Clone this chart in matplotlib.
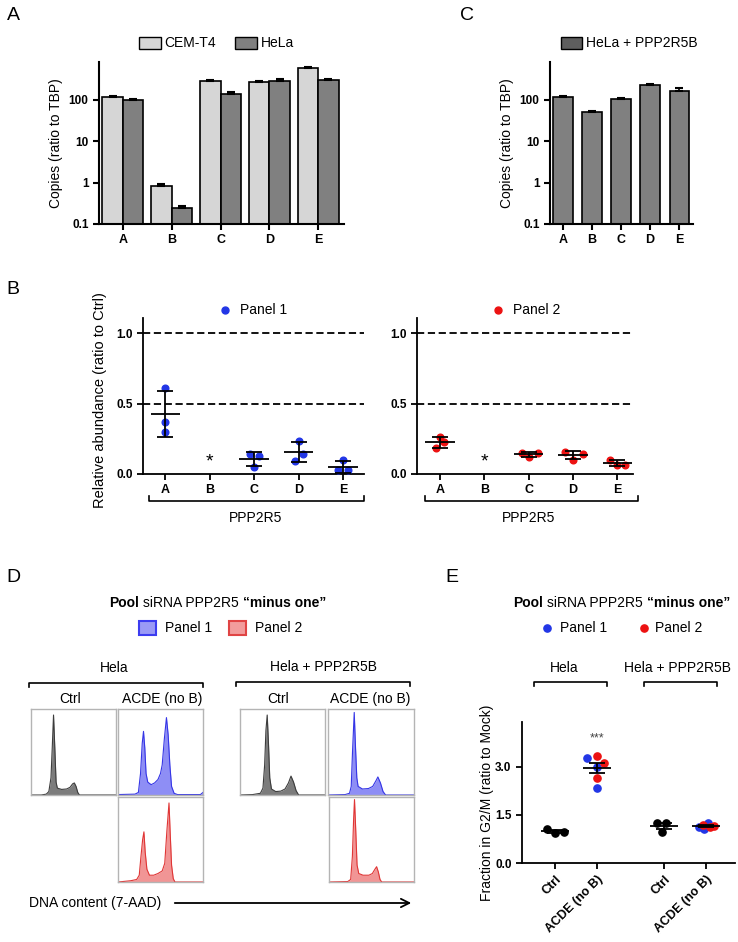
import numpy as np
import matplotlib.pyplot as plt
from matplotlib.patches import Rectangle
from matplotlib.ticker import NullLocator

plt.rcParams['font.family'] = ['Liberation Sans', 'DejaVu Sans']

# ---------------- data ----------------
genes = ['A', 'B', 'C', 'D', 'E']

# panel A / C : copies (ratio to TBP)
cem_t4 = [120, 0.85, 285, 270, 600]
cem_t4_err = [8, 0.1, 15, 12, 25]
hela = [100, 0.25, 140, 290, 300]
hela_err = [6, 0.03, 12, 25, 30]
hela_b = [120, 50, 105, 230, 165]
hela_b_err = [5, 4, 8, 20, 25]

# panel B : relative abundance (ratio to Ctrl), None = not measured
panel1_vals = [[0.61, 0.37, 0.30], None, [0.145, 0.126, 0.05],
               [0.233, 0.145, 0.09], [0.097, 0.026, 0.026]]
panel1_jit = [[0, 0, 0], None, [-0.1, 0.1, 0], [0, 0.1, -0.09], [0, -0.12, 0.12]]
panel2_vals = [[0.26, 0.228, 0.185], None, [0.15, 0.15, 0.12],
               [0.16, 0.145, 0.10], [0.10, 0.065, 0.065]]
panel2_jit = [[0, 0.1, -0.1], None, [-0.15, 0.2, 0], [-0.18, 0.22, 0], [-0.17, 0, 0.18]]

# panel D : DNA content histograms (x, y as fraction of the box)
hist_hela_ctrl = [(0, 0), (0.12, 0), (0.18, 0.01), (0.21, 0.04), (0.235, 0.2), (0.25, 0.55),
                  (0.265, 0.93), (0.28, 0.55), (0.295, 0.15), (0.31, 0.08), (0.36, 0.065),
                  (0.42, 0.07), (0.46, 0.09), (0.49, 0.13), (0.51, 0.14), (0.53, 0.1),
                  (0.55, 0.03), (0.57, 0), (1, 0)]
hist_hela_p1 = [(0, 0.005), (0.2, 0.01), (0.24, 0.03), (0.265, 0.25), (0.285, 0.6), (0.3, 0.74),
                (0.315, 0.55), (0.33, 0.25), (0.35, 0.15), (0.39, 0.12), (0.43, 0.14),
                (0.47, 0.18), (0.5, 0.25), (0.52, 0.35), (0.545, 0.65), (0.57, 0.9),
                (0.59, 0.7), (0.61, 0.35), (0.63, 0.1), (0.66, 0.02), (0.7, 0.005),
                (0.97, 0.005), (1, 0.03)]
hist_hela_p2 = [(0, 0), (0.05, 0.005), (0.15, 0.015), (0.22, 0.03), (0.25, 0.08), (0.27, 0.3),
                (0.29, 0.5), (0.305, 0.59), (0.32, 0.35), (0.34, 0.15), (0.37, 0.08),
                (0.42, 0.08), (0.47, 0.1), (0.52, 0.13), (0.55, 0.22), (0.575, 0.6),
                (0.6, 0.93), (0.615, 0.55), (0.63, 0.2), (0.65, 0.04), (0.67, 0), (1, 0)]
hist_helab_ctrl = [(0, 0), (0.15, 0.005), (0.24, 0.02), (0.27, 0.08), (0.29, 0.35), (0.305, 0.75),
                   (0.32, 0.93), (0.335, 0.6), (0.35, 0.2), (0.37, 0.07), (0.42, 0.04),
                   (0.48, 0.045), (0.53, 0.07), (0.57, 0.14), (0.6, 0.22), (0.63, 0.15),
                   (0.66, 0.05), (0.69, 0), (1, 0)]
hist_helab_p1 = [(0, 0), (0.2, 0.005), (0.25, 0.02), (0.27, 0.1), (0.285, 0.5), (0.305, 0.96),
                 (0.32, 0.55), (0.335, 0.2), (0.35, 0.1), (0.4, 0.07), (0.47, 0.075),
                 (0.52, 0.1), (0.56, 0.17), (0.58, 0.21), (0.61, 0.14), (0.64, 0.04),
                 (0.67, 0), (1, 0)]
hist_helab_p2 = [(0, 0), (0.22, 0.005), (0.255, 0.03), (0.275, 0.3), (0.29, 0.75), (0.3, 0.97),
                 (0.315, 0.6), (0.33, 0.2), (0.35, 0.1), (0.4, 0.08), (0.47, 0.08),
                 (0.51, 0.1), (0.54, 0.15), (0.56, 0.18), (0.58, 0.12), (0.6, 0.03),
                 (0.62, 0), (1, 0)]

# panel E : fraction in G2/M (ratio to Mock)
e_labels = ['Ctrl', 'ACDE (no B)', 'Ctrl', 'ACDE (no B)']
e_pos = [0, 1, 2.6, 3.6]
e_black = [[1.05, 0.93, 0.97], [], [1.25, 1.25, 0.98], []]
e_black_jit = [[-0.2, 0, 0.2], [], [-0.18, 0.05, -0.06], []]
e_blue = [[], [3.27, 3.01, 2.33], [], [1.12, 1.05, 1.25]]
e_blue_jit = [[], [-0.25, 0, 0], [], [-0.18, -0.05, 0.05]]
e_red = [[], [3.34, 3.13, 2.65], [], [1.2, 1.12, 1.16]]
e_red_jit = [[], [0, 0.16, 0], [], [-0.08, 0.1, 0.2]]

BLUE = '#2236e6'
RED = '#ec1212'

# ---------------- figure ----------------
W, H = 738, 942
fig = plt.figure(figsize=(W / 100, H / 100), dpi=100)

ov = fig.add_axes([0, 0, 1, 1], zorder=-1)
ov.set_xlim(0, W)
ov.set_ylim(H, 0)
ov.axis('off')


def px_axes(x0, y0, x1, y1):
    return fig.add_axes([x0 / W, 1 - y1 / H, (x1 - x0) / W, (y1 - y0) / H])


def txt(x, y, s, size=10, **kw):
    kw.setdefault('ha', 'center')
    kw.setdefault('va', 'center')
    return ov.text(x, y, s, fontsize=size, **kw)


def bracket(x0, x1, y, tick=4):
    ov.plot([x0, x0, x1, x1], [y + tick, y, y, y + tick], color='k', lw=1.2)


renderer = fig.canvas.get_renderer()


def text_width(s, size, weight):
    t = ov.text(0, 0, s, fontsize=size, fontweight=weight)
    w = t.get_window_extent(renderer=renderer).width
    t.remove()
    return w


def rich(xc, y, parts, size=10):
    sp = 0.3 * size * 100 / 72
    widths = [text_width(s, size, w) for s, w in parts]
    total = sum(widths) + sp * (len(parts) - 1)
    x = xc - total / 2
    for (s, w), wd in zip(parts, widths):
        ov.text(x, y, s, fontsize=size, fontweight=w, ha='left', va='center')
        x += wd + sp


def style(ax, lw=1.5):
    for s in ['top', 'right']:
        ax.spines[s].set_visible(False)
    for s in ['left', 'bottom']:
        ax.spines[s].set_linewidth(lw)
    ax.tick_params(width=lw, length=4, direction='out')


# ---- panel letters ----
for lab, x, y in [('A', 13, 15), ('B', 13, 290), ('C', 467, 15), ('D', 13, 577), ('E', 452, 577)]:
    txt(x, y, lab, size=14)

# ---- panel A ----
axA = px_axes(99, 62, 344, 224)
xg = np.arange(len(genes))
axA.bar(xg - 0.21, cem_t4, 0.42, color='#d6d6d6', edgecolor='k', lw=1.2, log=True)
axA.bar(xg + 0.21, hela, 0.42, color='#808080', edgecolor='k', lw=1.2, log=True)
axA.errorbar(xg - 0.21, cem_t4, yerr=[np.zeros(5), cem_t4_err], fmt='none', ecolor='k',
             capsize=3, elinewidth=1.2, capthick=1.5)
axA.errorbar(xg + 0.21, hela, yerr=[np.zeros(5), hela_err], fmt='none', ecolor='k',
             capsize=3, elinewidth=1.2, capthick=1.5)

axC = px_axes(550, 62, 693, 224)
axC.bar(xg, hela_b, 0.66, color='#808080', edgecolor='k', lw=1.2, log=True)
axC.errorbar(xg, hela_b, yerr=[np.zeros(5), hela_b_err], fmt='none', ecolor='k',
             capsize=3, elinewidth=1.2, capthick=1.5)

for ax, xl in [(axA, (-0.49, 4.53)), (axC, (-0.45, 4.48))]:
    style(ax)
    ax.set_ylim(0.1, 830)
    ax.set_xlim(*xl)
    ax.yaxis.set_minor_locator(NullLocator())
    ax.set_yticks([0.1, 1, 10, 100], ['0.1', '1', '10', '100'], fontsize=8.5, fontweight='bold')
    ax.set_xticks(xg, genes, fontsize=9, fontweight='bold')
    ax.set_ylabel('Copies (ratio to TBP)', fontsize=10, labelpad=4)

ov.add_patch(Rectangle((139, 37), 22, 12, facecolor='#d6d6d6', edgecolor='k', lw=1))
txt(164, 43, 'CEM-T4', ha='left')
ov.add_patch(Rectangle((235, 37), 22, 12, facecolor='#808080', edgecolor='k', lw=1))
txt(261, 43, 'HeLa', ha='left')
ov.add_patch(Rectangle((561, 37), 21, 12, facecolor='#5e5e5e', edgecolor='k', lw=1))
txt(586, 43, 'HeLa + PPP2R5B', ha='left')

# ---- panel B ----


def abundance(ax, vals, jit, color):
    for i, (v, j) in enumerate(zip(vals, jit)):
        if v is None:
            ax.text(i, 0.085, '*', ha='center', va='center', fontsize=14)
            continue
        ax.plot(i + np.array(j), v, 'o', color=color, ms=4.8, zorder=3)
        m, s = np.mean(v), np.std(v, ddof=1)
        ax.hlines(m, i - 0.33, i + 0.33, color='k', lw=1.3, zorder=4)
        ax.errorbar(i, m, yerr=s, fmt='none', ecolor='k', capsize=5.5,
                    elinewidth=1.3, capthick=1.3, zorder=4)
    for h in [0.5, 1.0]:
        ax.axhline(h, ls=(0, (4, 2)), color='k', lw=1.3)
    style(ax, 1.3)
    ax.set_ylim(0, 1.11)
    ax.set_yticks([0, 0.5, 1.0], ['0.0', '0.5', '1.0'], fontsize=8.5, fontweight='bold')
    ax.set_xticks(range(len(genes)), genes, fontsize=9, fontweight='bold')


axB1 = px_axes(143, 318, 364, 474)
abundance(axB1, panel1_vals, panel1_jit, BLUE)
axB1.set_xlim(-0.5, 4.47)
axB2 = px_axes(417, 318, 633, 474)
abundance(axB2, panel2_vals, panel2_jit, RED)
axB2.set_xlim(-0.52, 4.35)
ov.text(100, 400, 'Relative abundance (ratio to Ctrl)', rotation=90, fontsize=10.5,
        ha='center', va='center')

ov.plot([225], [310], 'o', color=BLUE, ms=5)
txt(240, 310, 'Panel 1', ha='left')
ov.plot([498], [310], 'o', color=RED, ms=5)
txt(513, 310, 'Panel 2', ha='left')

bracket(149, 364, 501, tick=-5)
txt(256, 518, 'PPP2R5')
bracket(425, 638, 501, tick=-5)
txt(529, 518, 'PPP2R5')

# ---- panel D ----
rich(218, 603, [('Pool', 'bold'), ('siRNA PPP2R5', 'normal'), ('\u201cminus one\u201d', 'bold')])
ov.add_patch(Rectangle((139, 621), 17, 14, facecolor='#9a9af6', edgecolor='#3c3cf0', lw=1.5))
txt(165, 628, 'Panel 1', ha='left')
ov.add_patch(Rectangle((229, 621), 17, 14, facecolor='#f29c9c', edgecolor='#e04444', lw=1.5))
txt(255, 628, 'Panel 2', ha='left')

txt(114, 668, 'Hela')
bracket(29, 203, 683)
txt(323, 667, 'Hela + PPP2R5B')
bracket(236, 410, 682)
for x, s in [(70, 'Ctrl'), (162, 'ACDE (no B)'), (278, 'Ctrl'), (370, 'ACDE (no B)')]:
    txt(x, 699, s)

hist_boxes = [
    (hist_hela_ctrl, (31, 709, 116, 795), '#7c7c7c', '#3c3c3c'),
    (hist_hela_p1, (118, 709, 203, 795), '#8e8ef5', '#3535e6'),
    (hist_hela_p2, (118, 797, 203, 882), '#f19595', '#e03535'),
    (hist_helab_ctrl, (240, 709, 325, 795), '#7c7c7c', '#3c3c3c'),
    (hist_helab_p1, (328, 709, 414, 795), '#8e8ef5', '#3535e6'),
    (hist_helab_p2, (329, 797, 414, 882), '#f19595', '#e03535'),
]
for prof, box, fc, ec in hist_boxes:
    ax = px_axes(*box)
    hx, hy = zip(*prof)
    ax.fill_between(hx, hy, color=fc, lw=0)
    ax.plot(hx, hy, color=ec, lw=0.8)
    ax.set_xlim(0, 1)
    ax.set_ylim(0, 1)
    ax.set_xticks([])
    ax.set_yticks([])
    for s in ax.spines.values():
        s.set_color('#b4b4b4')
        s.set_linewidth(1.0)

txt(29, 903, 'DNA content (7-AAD)', ha='left')
ov.annotate('', xy=(414, 903), xytext=(172, 903),
            arrowprops=dict(arrowstyle='->,head_length=0.6,head_width=0.3', lw=1.3, color='k'))

# ---- panel E ----
rich(622, 603, [('Pool', 'bold'), ('siRNA PPP2R5', 'normal'), ('\u201cminus one\u201d', 'bold')])
ov.plot([547], [628], 'o', color=BLUE, ms=5.2)
txt(560, 628, 'Panel 1', ha='left')
ov.plot([644], [628], 'o', color=RED, ms=5.2)
txt(655, 628, 'Panel 2', ha='left')
txt(564, 668, 'Hela')
bracket(534, 607, 682)
txt(677, 668, 'Hela + PPP2R5B')
bracket(644, 717, 682)

axE = px_axes(522, 722, 735, 863)
for i, p in enumerate(e_pos):
    allv = []
    for vals, jit, col in [(e_black, e_black_jit, 'k'), (e_blue, e_blue_jit, BLUE),
                           (e_red, e_red_jit, RED)]:
        if vals[i]:
            axE.plot(p + np.array(jit[i]), vals[i], 'o', color=col, ms=5.2, zorder=3)
            allv += vals[i]
    m = np.mean(allv)
    sem = np.std(allv, ddof=1) / np.sqrt(len(allv))
    axE.hlines(m, p - 0.33, p + 0.33, color='k', lw=1.3, zorder=4)
    axE.errorbar(p, m, yerr=sem, fmt='none', ecolor='k', capsize=5.5,
                 elinewidth=1.3, capthick=1.3, zorder=4)
axE.text(e_pos[1], 3.9, '***', ha='center', va='center', fontsize=9, color='#444444')
style(axE, 1.3)
axE.set_ylim(0, 4.4)
axE.set_xlim(-0.79, 4.29)
axE.set_yticks([0, 1.5, 3.0], ['0.0', '1.5', '3.0'], fontsize=8.5, fontweight='bold')
axE.set_xticks(e_pos, e_labels, fontsize=9, fontweight='bold', rotation=45,
               ha='right', rotation_mode='anchor')
ov.text(487, 803, 'Fraction in G2/M (ratio to Mock)', rotation=90, fontsize=10,
        ha='center', va='center')

fig.savefig('out.png', dpi=100)
